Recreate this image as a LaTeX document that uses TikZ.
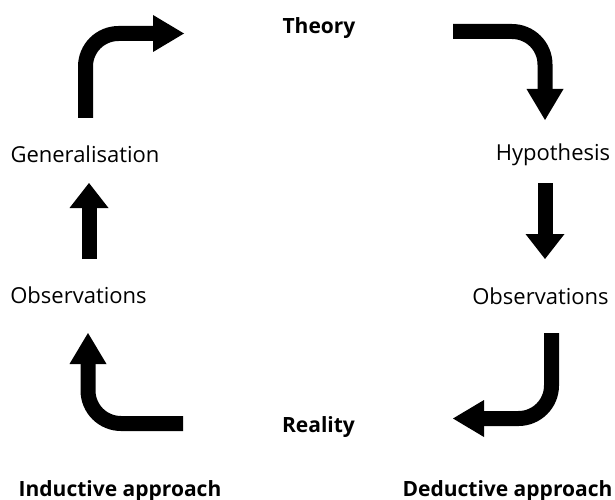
\documentclass[tikz,border=0pt]{standalone}
\usepackage{fontspec}
\setmainfont{Open Sans}
\usetikzlibrary{arrows.meta, positioning}

\begin{document}
\begin{tikzpicture}[
  x=1pt, y=-1pt,
  font=\fontsize{22}{25}\selectfont,
  etichetta/.style={inner sep=0pt, anchor=base},
  titolo/.style={etichetta, font=\fontsize{21}{24}\selectfont\bfseries},
  punta/.style={-{Triangle[length=31pt,width=37pt,line width=0pt]}},
  puntacorta/.style={-{Triangle[length=25pt,width=39pt,line width=0pt]}},
  curva/.style={draw=black, line width=15pt, punta, rounded corners=33pt},
  dritta/.style={draw=black, line width=15pt, puntacorta}
]
\useasboundingbox (0,0) rectangle (615,500);

% testi
\node[titolo]    (teoria)    at (319,34)    {Theory};
\node[etichetta] (ipotesi)   at (553,160)   {Hypothesis};
\node[etichetta] (osservD)   at (540.5,304) {Observations};
\node[titolo]    (realta)    at (318.5,432) {Reality};
\node[etichetta] (osservI)   at (78.5,303)  {Observations};
\node[etichetta] (general)   at (85,162)    {Generalisation};
\node[titolo]    (induttivo) at (120,496)   {Inductive approach};
\node[titolo]    (deduttivo) at (507.5,496) {Deductive approach};

% estremi delle frecce
\coordinate (gS) at (85.5,118);   \coordinate (tO) at (184,33.5);
\coordinate (tE) at (453,31.5);   \coordinate (hN) at (545,120);
\coordinate (hS) at (545,183);    \coordinate (oN) at (545,259);
\coordinate (oS) at (551.5,333);  \coordinate (rE) at (453,418.5);
\coordinate (rO) at (183,423.5);  \coordinate (iS) at (88,333);
\coordinate (iN) at (89,259);     \coordinate (gN) at (89,183);

% ciclo deduttivo
\draw[curva]  (tE) -| (hN);
\draw[dritta] (hS) -- (oN);
\draw[curva]  (oS) |- (rE);

% ciclo induttivo
\draw[curva]  (rO) -| (iS);
\draw[dritta] (iN) -- (gN);
\draw[curva]  (gS) |- (tO);

\end{tikzpicture}
\end{document}
